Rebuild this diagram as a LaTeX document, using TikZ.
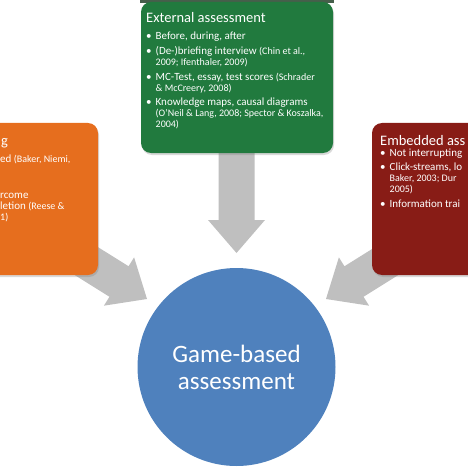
\documentclass[tikz,border=0pt]{standalone}
\usepackage{fontspec}
\setmainfont{Carlito}
\usetikzlibrary{shapes,positioning,shadows}
\definecolor{extgreen}{RGB}{33,122,62}
\definecolor{logorange}{RGB}{230,110,30}
\definecolor{embred}{RGB}{136,28,22}
\definecolor{gameblue}{RGB}{79,129,189}
\definecolor{arrgray}{RGB}{191,191,191}
\definecolor{topband}{RGB}{70,95,75}
\newcommand\src[1]{{\fontsize{10}{11}\selectfont #1}}
\tikzset{box/.style={rectangle,rounded corners=10pt,inner sep=0pt,drop shadow={opacity=0.3,shadow xshift=1pt,shadow yshift=-2pt}},
  head/.style={text=white,inner sep=0pt,anchor=base west,font=\fontsize{14.5}{16}\selectfont},
  list/.style={text=white,inner sep=0pt,anchor=base west,font=\fontsize{11}{11}\selectfont},
  garrow/.pic={\fill[arrgray] (0,0) -- (-33,28.5) -- (-33,18) -- (-108,18) -- (-108,-18) -- (-33,-18) -- (-33,-28.5) -- cycle;}}

\begin{document}
\begin{tikzpicture}[x=1pt,y=-1pt]
        \useasboundingbox (0,0) rectangle (468,468);
        \clip (0,0) rectangle (468,468);

        % arrows first, the boxes hide their tails
        \coordinate (tl) at (147,299);
        \coordinate (tt) at (236.5,253);
        \coordinate (tr) at (326,299);
        \pic[rotate=-32] at (tl) {garrow};
        \pic[rotate=-90] at (tt) {garrow};
        \pic[rotate=212] at (tr) {garrow};

        \fill[topband] (140,0) rectangle (334,3);
        \node[box,fill=extgreen,minimum width=192,minimum height=151] (ext) at (237,77.5) {};
        \node[box,fill=logorange,minimum width=118,minimum height=152] (log) at (39,199) {};
        \node[box,fill=embred,minimum width=118,minimum height=152] (emb) at (431,199) {};

        \node[head] (exth) at (146,23) {External assessment};
        \node[list] (extl) at (146,40) {\begin{tabular}[t]{@{}l@{\hspace{4pt}}l@{}}
            \textbullet & Before, during, after\\[3.5pt]
            \textbullet & (De-)briefing interview \src{(Chin et al.,}\\
             & \src{2009; Ifenthaler, 2009)}\\[3.5pt]
            \textbullet & MC-Test, essay, test scores \src{(Schrader}\\
             & \src{\& McCreery, 2008)}\\[3.5pt]
            \textbullet & Knowledge maps, causal diagrams\\
             & \src{(O'Neil \& Lang, 2008; Spector \& Koszalka,}\\
             & \src{2004)}
            \end{tabular}};

        \node[head] (logh) at (1,146) {g};
        \node[list] (logl) at (0,162) {\begin{tabular}[t]{@{}l@{}}
            ed \src{(Baker, Niemi,}\\
            \\[3.5pt]
            \\
            rcome\\
            letion \src{(Reese \&}\\
            \src{1)}
            \end{tabular}};

        \node[head] (embh) at (380,145) {Embedded ass};
        \node[list] (embl) at (380,156) {\begin{tabular}[t]{@{}l@{\hspace{4pt}}l@{}}
            \textbullet & Not interrupting\\[3.5pt]
            \textbullet & Click-streams, lo\\
             & \src{Baker, 2003; Dur}\\
             & \src{2005)}\\[3.5pt]
            \textbullet & Information trai
            \end{tabular}};

        \node[circle,fill=gameblue,minimum size=198,inner sep=0pt,text=white,align=center,font=\fontsize{25}{27}\selectfont] (game) at (236.5,367) {Game-based\\assessment};
    \end{tikzpicture}
\end{document}
